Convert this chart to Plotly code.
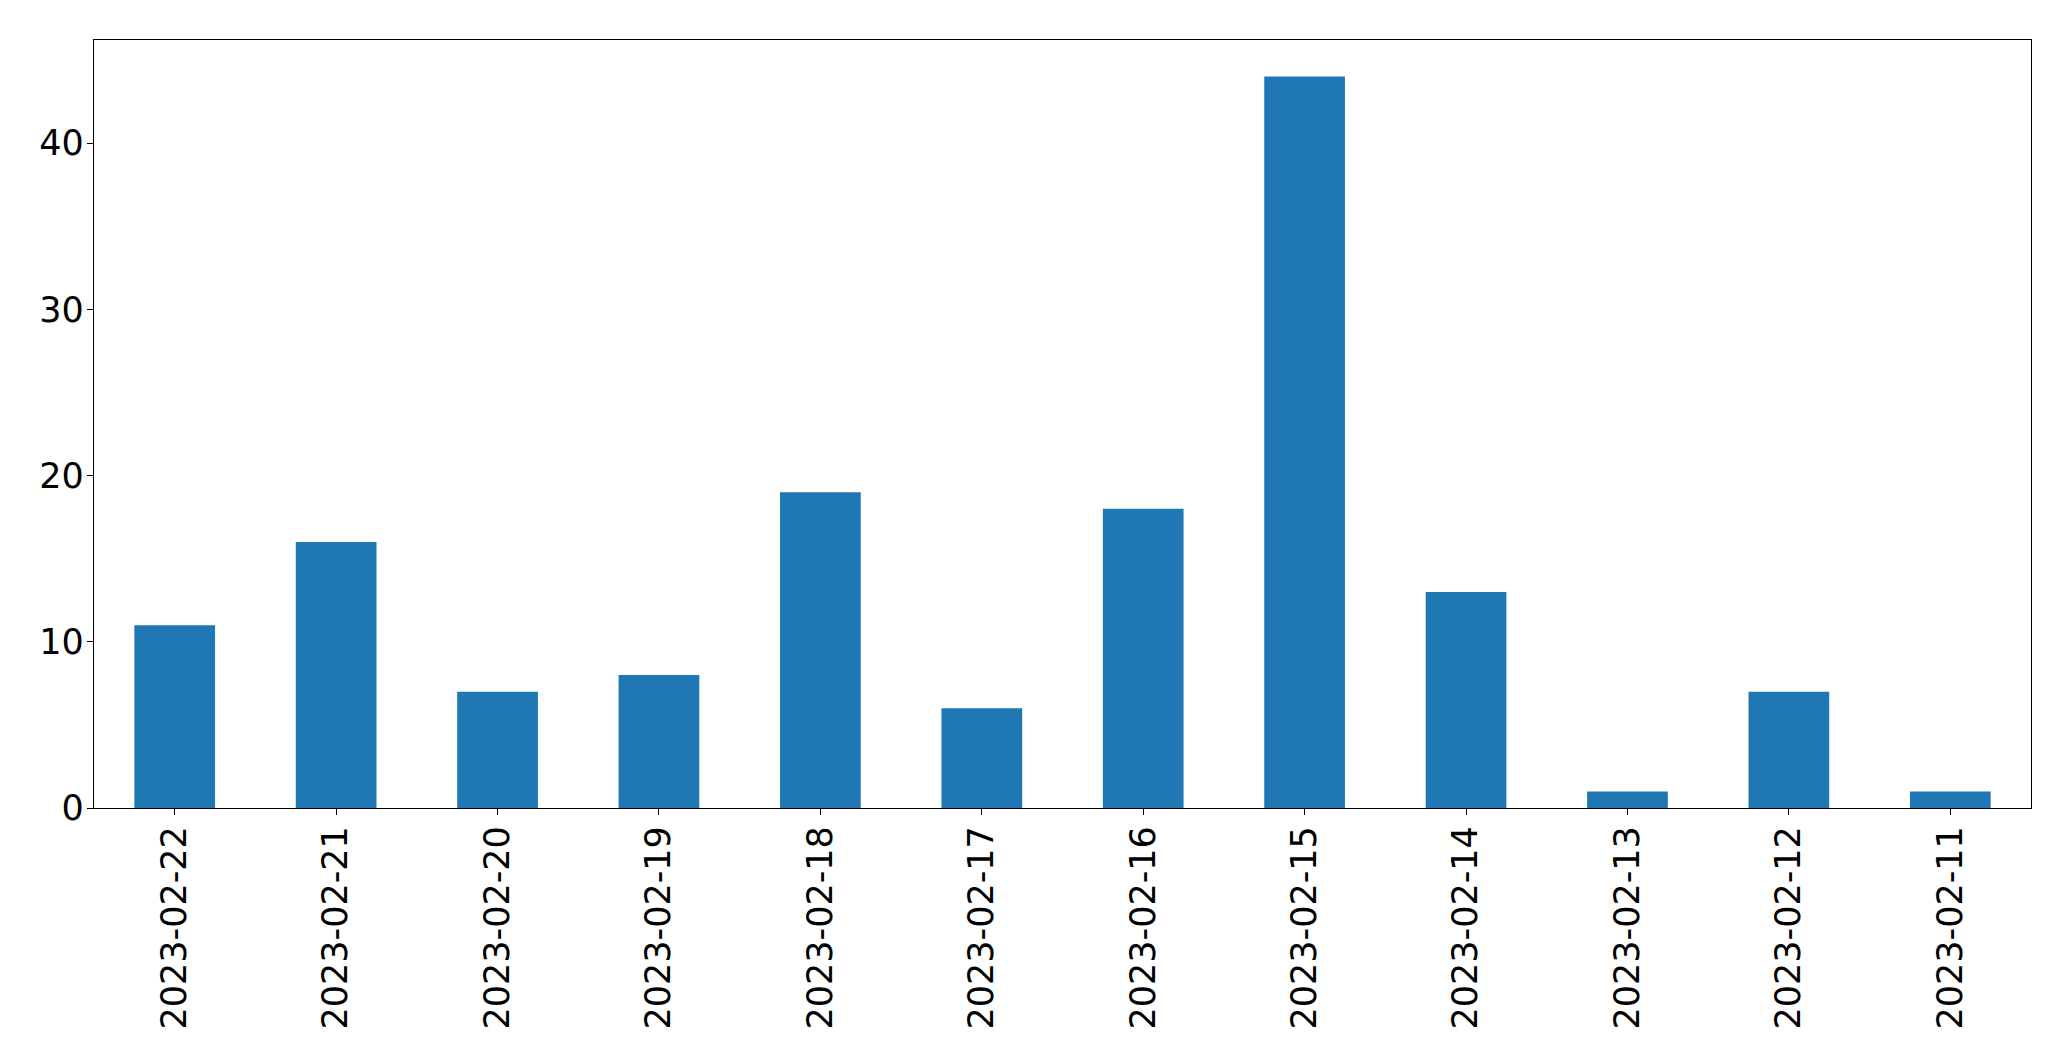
import plotly.graph_objects as go

dates = ["2023-02-22", "2023-02-21", "2023-02-20", "2023-02-19", "2023-02-18", "2023-02-17",
         "2023-02-16", "2023-02-15", "2023-02-14", "2023-02-13", "2023-02-12", "2023-02-11"]
counts = [11, 16, 7, 8, 19, 6, 18, 44, 13, 1, 7, 1]

fig = go.Figure(go.Bar(x=dates, y=counts, marker=dict(color="#1f77b4", line=dict(width=0)), width=0.5))

fig.update_layout(
    width=2055, height=1045,
    margin=dict(l=86, r=32, t=32, b=245),
    plot_bgcolor="white", paper_bgcolor="white",
    showlegend=False,
    font=dict(family="DejaVu Sans", color="black", size=35),
)
fig.update_xaxes(
    type="category", range=[-0.5, len(dates) - 0.5], tickangle=-90,
    showline=True, linecolor="black", linewidth=1.3, mirror=True,
    ticks="outside", ticklen=6, tickcolor="black", showgrid=False,
    tickfont=dict(size=35), ticklabelstandoff=-3,
)
fig.update_yaxes(
    range=[0, max(counts) * 1.05], dtick=10, tick0=0,
    showline=True, linecolor="black", linewidth=1.3, mirror=True,
    ticks="outside", ticklen=6, tickcolor="black", showgrid=False, zeroline=False,
    tickfont=dict(size=35), ticklabelstandoff=-4,
)

fig.write_html("out.html")
